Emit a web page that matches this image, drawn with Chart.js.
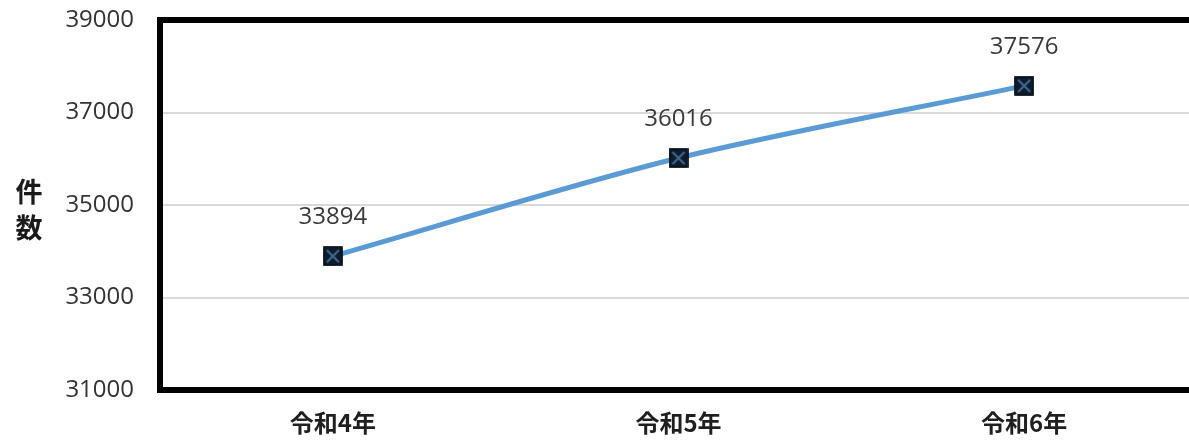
<!DOCTYPE html>
<html>
<head>
<meta charset="utf-8">
<script src="https://cdn.jsdelivr.net/npm/chart.js@4/dist/chart.umd.min.js"></script>
<style>
  html, body { margin: 0; padding: 0; background: #fff; overflow: hidden; }
  #wrap { width: 1212px; height: 441px; }
</style>
</head>
<body>
<div id="wrap"><canvas id="chart"></canvas></div>
<script>
const years = ['令和4年', '令和5年', '令和6年'];
const counts = [33894, 36016, 37576];
const yTicks = [31000, 33000, 35000, 37000, 39000];
const yTitle = ['件', '数'];

const numFont = '"Open Sans", "Noto Sans CJK JP", sans-serif';
const jpFont = '"Noto Sans CJK JP", sans-serif';

// square marker with a cross through it
function makeMarker() {
    let c = document.createElement('canvas');
    c.width = 20; c.height = 20;
    let g = c.getContext('2d');
    g.fillStyle = '#0f1b29';
    g.fillRect(0.5, 0.5, 19, 19);
    g.strokeStyle = '#08111b';
    g.lineWidth = 1.5;
    g.strokeRect(1, 1, 18, 18);
    g.strokeStyle = '#3b6a92';
    g.lineWidth = 2.2;
    g.beginPath();
    g.moveTo(4, 4); g.lineTo(16, 16);
    g.moveTo(16, 4); g.lineTo(4, 16);
    g.stroke();
    return c;
}

const frame = {
    id: 'frame',
    afterDatasetsDraw(chart) {
        let {ctx, chartArea: a} = chart;
        ctx.save();
        ctx.strokeStyle = '#000';
        ctx.lineWidth = 6;
        ctx.strokeRect(a.left, a.top, a.right - a.left, a.bottom - a.top);
        ctx.restore();
    }
};

const valueLabels = {
    id: 'valueLabels',
    afterDatasetsDraw(chart) {
        let ctx = chart.ctx;
        let meta = chart.getDatasetMeta(0);
        ctx.save();
        ctx.font = '24px ' + numFont;
        ctx.fillStyle = '#3a3a3a';
        ctx.textAlign = 'center';
        ctx.textBaseline = 'middle';
        meta.data.forEach((pt, i) => {
            ctx.fillText(String(chart.data.datasets[0].data[i]), pt.x, pt.y - 39);
        });
        ctx.restore();
    }
};

const axisTitle = {
    id: 'axisTitle',
    afterDraw(chart) {
        let ctx = chart.ctx;
        ctx.save();
        ctx.font = 'bold 27px ' + jpFont;
        ctx.fillStyle = '#1a1a1a';
        ctx.textAlign = 'center';
        ctx.textBaseline = 'middle';
        yTitle.forEach((ch, i) => ctx.fillText(ch, 29, 192 + i * 36));
        ctx.restore();
    }
};

let chart = new Chart(document.getElementById('chart'), {
    type: 'line',
    data: {
        labels: years,
        datasets: [{
            data: counts,
            borderColor: '#5b9bd5',
            borderWidth: 5,
            tension: 0.3,
            pointStyle: makeMarker(),
            pointRadius: 10,
            pointHoverRadius: 10,
            clip: false
        }]
    },
    options: {
        responsive: true,
        maintainAspectRatio: false,
        animation: false,
        layout: { padding: { top: 20, left: 0, right: 0, bottom: 0 } },
        plugins: {
            legend: { display: false },
            tooltip: { enabled: false }
        },
        scales: {
            x: {
                offset: true,
                grid: { display: false },
                border: { display: false },
                ticks: {
                    padding: 10,
                    color: '#1f1f1f',
                    font: { family: jpFont, size: 24, weight: 'bold' }
                },
                afterFit(scale) { scale.height = 51; }
            },
            y: {
                min: 31000,
                max: 39000,
                afterBuildTicks(scale) { scale.ticks = yTicks.map(v => ({value: v})); },
                grid: { color: '#d9d9d9', lineWidth: 2, drawTicks: false },
                border: { display: false },
                ticks: {
                    padding: 26,
                    color: '#333',
                    font: { family: numFont, size: 24 },
                    callback: v => String(v)
                },
                afterFit(scale) {
                    scale.width = 160;
                    scale.paddingTop = 0;
                    scale.paddingBottom = 0;
                }
            }
        }
    },
    plugins: [frame, valueLabels, axisTitle]
});
</script>
</body>
</html>
